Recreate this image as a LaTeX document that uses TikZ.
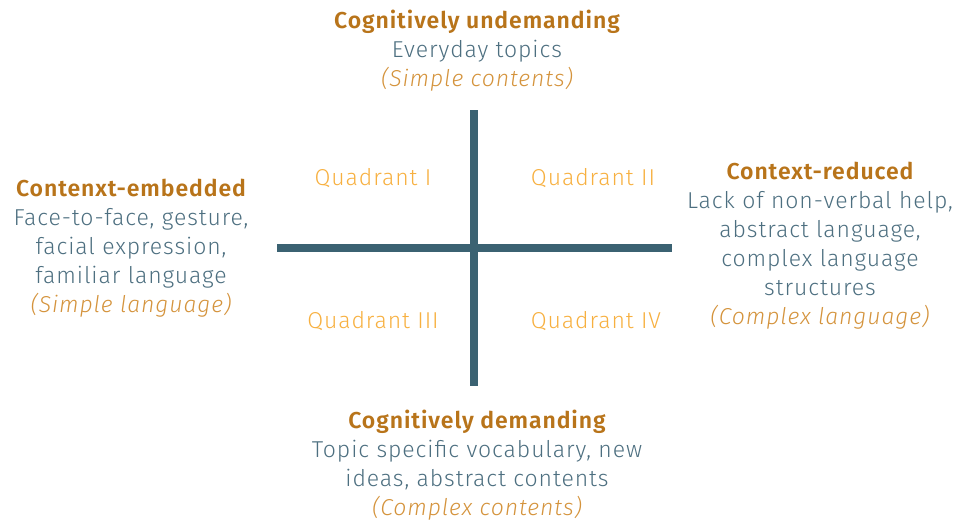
\documentclass[tikz,border=0pt]{standalone}
\usepackage{fontspec}
\setmainfont{Fira Sans}[UprightFont=* Light, ItalicFont=* Light Italic, BoldFont=* SemiBold, LetterSpace=4]
\definecolor{axiscol}{HTML}{3B6272}
\definecolor{headcol}{HTML}{B8741A}
\definecolor{bodycol}{HTML}{4D6F80}
\definecolor{notecol}{HTML}{D4933C}
\definecolor{quadcol}{HTML}{F7B040}
\newcommand{\cumhead}[1]{{\bfseries\color{headcol}#1}}
\newcommand{\cumnote}[1]{{\itshape\color{notecol}#1}}
\begin{document}
\begin{tikzpicture}[x=1pt, y=-1pt,
    blk/.style={align=center, inner sep=0pt, anchor=base, text=bodycol, font=\fontsize{23}{29}\selectfont},
    quad/.style={inner sep=0pt, anchor=base, text=quadcol, font=\fontsize{23}{29}\selectfont},
    axis/.style={axiscol, line width=8pt}]
  \useasboundingbox (0,0) rectangle (955,522);
  % axes
  \coordinate (top) at (474,110);
  \coordinate (bot) at (474,386);
  \coordinate (lft) at (277,248);
  \coordinate (rgt) at (672,248);
  \draw[axis] (top) -- (bot);
  \draw[axis] (lft) -- (rgt);
  % quadrants
  \node[quad] (q1) at (373,185) {Quadrant I};
  \node[quad] (q2) at (593,185) {Quadrant II};
  \node[quad] (q3) at (373,328) {Quadrant III};
  \node[quad] (q4) at (596,328) {Quadrant IV};
  % the four ends (anchored at the last line)
  \node[blk] (undem) at (477,86) {\cumhead{Cognitively undemanding}\\
    Everyday topics\\ \cumnote{(Simple contents)}};
  \node[blk] (embed) at (131,312) {\cumhead{Contenxt-embedded}\\
    Face-to-face, gesture,\\ facial expression,\\ familiar language\\
    \cumnote{(Simple language)}};
  \node[blk] (reduc) at (820,324) {\cumhead{Context-reduced}\\
    Lack of non-verbal help,\\ abstract language,\\ complex language\\ structures\\
    \cumnote{(Complex language)}};
  \node[blk] (dem) at (477,515) {\cumhead{Cognitively demanding}\\
    Topic specific vocabulary, new\\ ideas, abstract contents\\
    \cumnote{(Complex contents)}};
\end{tikzpicture}
\end{document}
